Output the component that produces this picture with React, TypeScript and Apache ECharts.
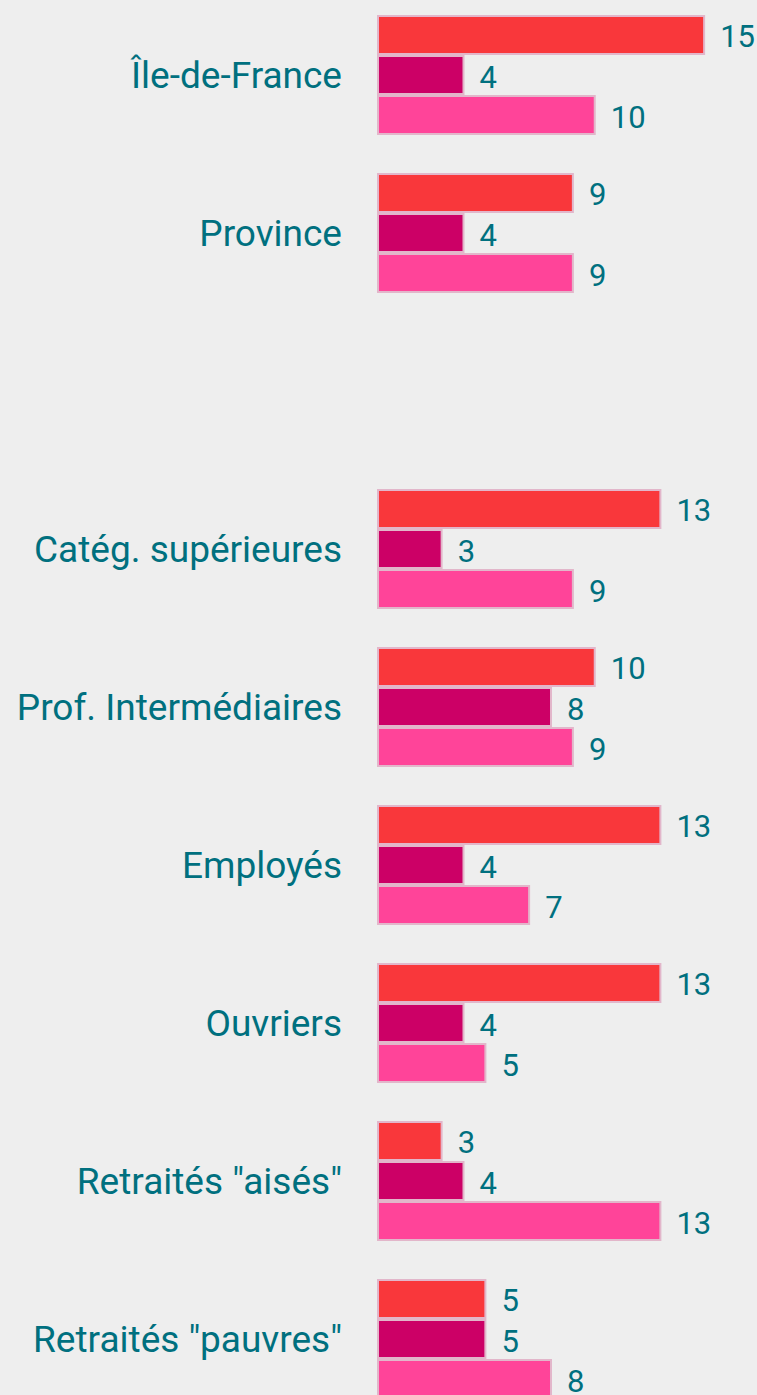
import React, { useEffect, useRef } from "react";
import * as echarts from "echarts";

const categories = [
  "Île-de-France",
  "Province",
  "",
  "Catég. supérieures",
  "Prof. Intermédiaires",
  "Employés",
  "Ouvriers",
  'Retraités "aisés"',
  'Retraités "pauvres"',
];
const seriesA = [15, 9, null, 13, 10, 13, 13, 3, 5];
const seriesB = [4, 4, null, 3, 8, 4, 4, 4, 5];
const seriesC = [10, 9, null, 9, 9, 7, 5, 13, 8];
const colors = ["#f9373b", "#cc0066", "#ff4499"];

const TEXT = "#00707f";
const FONT = "Roboto";

export default function App() {
  const ref = useRef<HTMLDivElement>(null);
  useEffect(() => {
    if (!ref.current) return;
    const chart = echarts.init(ref.current, undefined, { renderer: "svg" });
    const mk = (name: string, data: (number | null)[], color: string) => ({
      type: "bar",
      name,
      data,
      barGap: "0%",
      barCategoryGap: "24%",
      itemStyle: { color, borderColor: "#e2b6ca", borderWidth: 2 },
      label: {
        show: true,
        position: "right",
        distance: 15,
        offset: [0, 2],
        color: TEXT,
        fontFamily: FONT,
        fontSize: 31,
      },
    });
    chart.setOption({
      animation: false,
      backgroundColor: "#eeeeee",
      grid: { left: 377, top: 0, width: 350, height: 1422, containLabel: false },
      xAxis: {
        type: "value",
        min: 0,
        max: 16,
        show: false,
      },
      yAxis: {
        type: "category",
        data: categories,
        inverse: true,
        axisLine: { show: false },
        axisTick: { show: false },
        splitLine: { show: false },
        axisLabel: {
          color: TEXT,
          fontFamily: FONT,
          fontSize: 37,
          margin: 35,
        },
      },
      series: [
        mk("A", seriesA, colors[0]),
        mk("B", seriesB, colors[1]),
        mk("C", seriesC, colors[2]),
      ],
    });
    return () => chart.dispose();
  }, []);
  return (
    <div
      ref={ref}
      style={{ position: "fixed", left: 0, top: -4, width: 757, height: 1430 }}
    />
  );
}
